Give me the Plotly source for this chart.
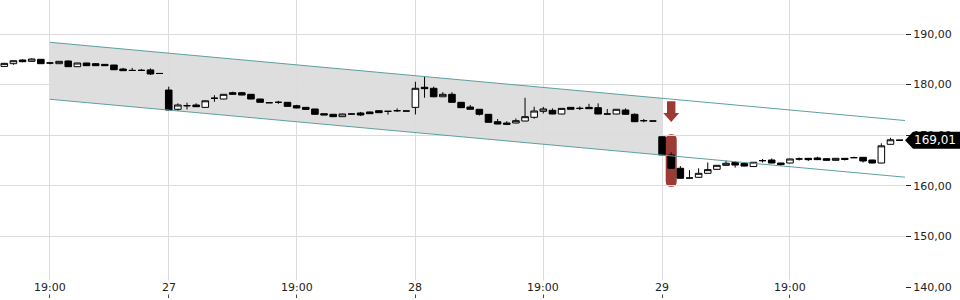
import plotly.graph_objects as go

# ---------------- data ----------------
opens = [183.6, 184.13, 184.86, 184.6, 185.0, 184.27, 184.13, 184.66, 183.54, 184.27,
         184.13, 184.0, 183.87, 183.08, 182.8, 182.8, 182.9, 182.2, 178.93, 175.12,
         175.83, 175.97, 175.5, 177.3, 177.15, 178.4, 178.4, 178.08, 177.15, 176.42,
         176.5, 176.5, 175.83, 175.5, 175.18, 174.25, 174.13, 173.66, 174.19, 174.39,
         174.59, 174.84, 174.72, 174.84, 174.78, 175.5, 179.47, 179.27, 177.6, 178.08,
         176.5, 175.57, 175.12, 174.13, 172.67, 172.41, 172.41, 172.8, 173.54, 174.72,
         174.92, 174.19, 175.5, 175.3, 175.5, 175.44, 174.19, 174.19, 174.98, 174.13,
         172.87, 172.8, 169.7, 166.09, 163.46, 161.54, 161.68, 162.47, 163.26, 164.05,
         164.6, 164.4, 163.8, 164.97, 165.1, 164.5, 164.5, 165.3, 165.43, 165.5,
         165.36, 165.04, 165.43, 165.56, 165.63, 165.1, 164.5, 168.2, 169.01]
highs = [184.3, 184.75, 185.0, 185.2, 185.05, 184.47, 184.62, 184.8, 184.3, 184.3,
         184.27, 184.02, 183.9, 183.3, 183.3, 183.1, 183.2, 182.25, 179.6, 176.3,
         176.42, 176.3, 176.85, 177.9, 178.1, 178.6, 178.55, 178.1, 177.2, 176.45,
         176.8, 176.55, 176.0, 175.55, 175.2, 174.3, 174.2, 174.25, 174.22, 174.6,
         174.65, 174.9, 174.75, 175.3, 174.8, 180.57, 181.5, 179.6, 178.5, 178.5,
         176.55, 175.97, 175.15, 174.15, 173.2, 172.75, 173.3, 177.4, 175.63, 175.6,
         175.3, 175.35, 175.55, 175.7, 176.2, 176.3, 175.18, 175.15, 175.3, 174.3,
         173.2, 172.82, 169.75, 166.6, 163.9, 163.1, 163.46, 164.6, 164.1, 164.97,
         164.9, 164.45, 164.7, 165.3, 165.4, 164.55, 165.35, 165.6, 165.5, 165.75,
         165.4, 165.45, 165.45, 165.75, 165.66, 165.15, 168.4, 169.5, 169.05]
lows = [183.5, 183.93, 184.4, 184.55, 184.1, 184.0, 184.1, 183.5, 183.5, 183.7,
        183.7, 183.72, 182.9, 182.7, 182.7, 182.7, 181.9, 182.15, 174.9, 174.78,
        175.1, 175.6, 175.45, 176.6, 177.1, 178.05, 177.9, 177.1, 176.45, 176.4,
        176.2, 175.65, 175.3, 175.05, 174.1, 173.95, 173.6, 173.6, 174.15, 173.8,
        174.2, 174.4, 174.05, 174.6, 174.75, 174.1, 177.41, 177.5, 177.55, 176.45,
        175.4, 175.1, 173.9, 172.5, 172.15, 172.0, 172.35, 172.75, 173.26, 174.3,
        174.15, 174.15, 175.1, 174.95, 175.2, 174.15, 174.15, 174.15, 174.1, 172.6,
        172.55, 172.78, 166.05, 163.4, 161.45, 161.5, 161.6, 162.4, 163.2, 164.0,
        163.6, 163.85, 163.75, 164.6, 164.45, 163.9, 164.45, 165.0, 164.9, 165.1,
        164.95, 165.0, 165.0, 165.5, 164.6, 164.45, 164.45, 168.15, 168.98]
closes = [184.2, 184.72, 184.53, 185.06, 184.13, 184.27, 184.6, 183.54, 184.27, 183.74,
          183.74, 183.74, 182.94, 182.75, 182.8, 182.82, 182.1, 182.2, 174.98, 175.97,
          175.83, 175.63, 176.8, 177.3, 178.08, 178.08, 177.94, 177.15, 176.5, 176.42,
          176.5, 175.7, 175.38, 175.1, 174.13, 173.99, 173.66, 174.19, 174.19, 173.99,
          174.25, 174.45, 174.72, 174.84, 174.78, 179.27, 179.2, 177.6, 178.08, 176.5,
          175.44, 175.12, 174.13, 172.55, 172.21, 172.15, 172.87, 173.66, 174.78, 175.18,
          174.19, 175.3, 175.12, 175.3, 175.24, 174.19, 174.19, 175.12, 174.13, 172.67,
          172.87, 172.8, 166.09, 163.46, 161.48, 161.54, 162.47, 163.2, 164.05, 164.45,
          164.1, 163.9, 164.65, 164.97, 164.5, 164.2, 165.3, 165.3, 165.17, 165.17,
          165.04, 165.43, 165.23, 165.56, 164.9, 164.5, 167.9, 169.1, 169.01]
bar_index = list(range(len(opens)))

tick_index = [5, 18, 32, 45, 59, 72, 86]
tick_labels = ["19:00", "27", "19:00", "28", "19:00", "29", "19:00"]

y_ticks = [140, 150, 160, 170, 180, 190]

# trend channel (start index, end index, upper/lower values)
channel_x = [5, 98.6]
channel_upper = [188.36, 172.9]
channel_lower = [177.1, 161.7]
channel_fill_end = 72

last_price = 169.01
signal_idx = 73
signal_range = [159.8, 170.2]
arrow_top, arrow_neck, arrow_tip = 176.7, 174.4, 172.6

x_range = [-0.47, 98.59]
y_range = [140, 196.72]

# ---------------- figure ----------------
fig = go.Figure()

def upper_at(x):
    t = (x - channel_x[0]) / (channel_x[1] - channel_x[0])
    return channel_upper[0] + t * (channel_upper[1] - channel_upper[0])

def lower_at(x):
    t = (x - channel_x[0]) / (channel_x[1] - channel_x[0])
    return channel_lower[0] + t * (channel_lower[1] - channel_lower[0])

fill_path = (f"M {channel_x[0]} {upper_at(channel_x[0])} "
             f"L {channel_fill_end} {upper_at(channel_fill_end)} "
             f"L {channel_fill_end} {lower_at(channel_fill_end)} "
             f"L {channel_x[0]} {lower_at(channel_x[0])} Z")
fig.add_shape(type="path", path=fill_path, fillcolor="#dedede",
              line=dict(width=0), layer="below", xref="x", yref="y")

TEAL = "#5c9fa3"
fig.add_trace(go.Scatter(x=channel_x, y=channel_upper, mode="lines",
                         line=dict(color=TEAL, width=1), showlegend=False,
                         hoverinfo="skip"))
fig.add_trace(go.Scatter(x=channel_x, y=channel_lower, mode="lines",
                         line=dict(color=TEAL, width=1), showlegend=False,
                         hoverinfo="skip"))

fig.add_trace(go.Candlestick(
    x=bar_index, open=opens, high=highs, low=lows, close=closes,
    increasing=dict(line=dict(color="#000000", width=1), fillcolor="#ffffff"),
    decreasing=dict(line=dict(color="#000000", width=1), fillcolor="#000000"),
    whiskerwidth=0, showlegend=False))

# signal highlight (rounded pill) and arrow
RED = "#9c3a35"
px_per_idx = 905 / (x_range[1] - x_range[0])
px_per_val = 287 / (y_range[1] - y_range[0])
hw = 5.5 / px_per_idx
ry = 5.5 / px_per_val
x0, x1 = signal_idx - hw, signal_idx + hw
y0, y1 = signal_range
pill = (f"M {x0} {y0 + ry} L {x0} {y1 - ry} Q {x0} {y1} {signal_idx} {y1} "
        f"Q {x1} {y1} {x1} {y1 - ry} L {x1} {y0 + ry} Q {x1} {y0} {signal_idx} {y0} "
        f"Q {x0} {y0} {x0} {y0 + ry} Z")
fig.add_shape(type="path", path=pill, fillcolor=RED, line=dict(width=0),
              layer="below", xref="x", yref="y")

sw = 4.2 / px_per_idx
hwid = 8 / px_per_idx
arrow = (f"M {signal_idx - sw} {arrow_top} L {signal_idx + sw} {arrow_top} "
         f"L {signal_idx + sw} {arrow_neck} L {signal_idx + hwid} {arrow_neck} "
         f"L {signal_idx} {arrow_tip} L {signal_idx - hwid} {arrow_neck} "
         f"L {signal_idx - sw} {arrow_neck} Z")
fig.add_shape(type="path", path=arrow, fillcolor=RED, line=dict(width=0),
              xref="x", yref="y")

# last price tag
bh = 8.5 / px_per_val
p0 = 1.0
p1 = 1 + 8 / 905
p2 = 1 + 56 / 905
tag = (f"M {p0} {last_price} L {p1} {last_price + bh} L {p2} {last_price + bh} "
       f"L {p2} {last_price - bh} L {p1} {last_price - bh} Z")
fig.add_shape(type="path", path=tag, fillcolor="#000000", line=dict(width=0),
              xref="paper", yref="y")
fig.add_annotation(x=1 + 30 / 905, y=last_price, xref="paper", yref="y",
                   text=f"{last_price:.2f}".replace(".", ","), showarrow=False,
                   font=dict(family="DejaVu Sans", size=12, color="#ffffff"),
                   xanchor="center", yanchor="middle")

for ti, tl in zip(tick_index, tick_labels):
    fig.add_annotation(x=ti, y=0, xref="x", yref="paper", text=tl,
                       showarrow=False, xanchor="center", yanchor="middle",
                       bgcolor="#ffffff", borderpad=0,
                       font=dict(family="DejaVu Sans", size=11, color="#222222"))

fig.update_layout(
    width=960, height=300,
    margin=dict(l=0, r=55, t=0, b=13),
    paper_bgcolor="#ffffff", plot_bgcolor="#ffffff",
    separators=",.",
    boxgap=0.1, boxgroupgap=0.2,
    font=dict(family="DejaVu Sans", size=11, color="#222222"),
    xaxis=dict(range=x_range, tickvals=tick_index, showticklabels=False,
               ticks="outside", ticklen=10, tickcolor="#444444", tickwidth=1,
               showgrid=True, gridcolor="#dcdcdc", gridwidth=1,
               zeroline=False, showline=False, rangeslider=dict(visible=False)),
    yaxis=dict(range=y_range, side="right", tickvals=y_ticks, tickformat=".2f",
               ticks="outside", ticklen=5, tickcolor="#222222",
               showgrid=True, gridcolor="#dcdcdc", gridwidth=1,
               zeroline=False, showline=False),
    showlegend=False,
)

fig.write_html("out.html")
